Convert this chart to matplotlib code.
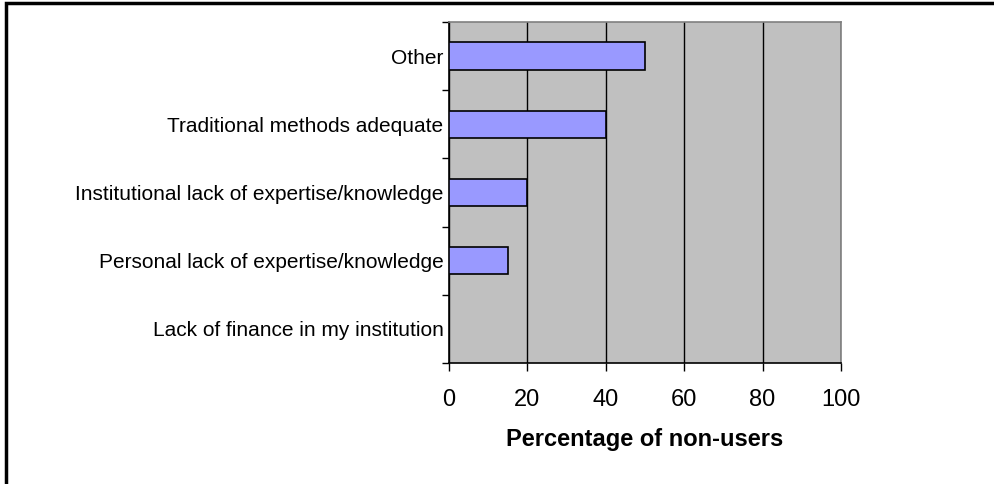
import matplotlib.pyplot as plt
from matplotlib.patches import Rectangle

categories = [
    "Other",
    "Traditional methods adequate",
    "Institutional lack of expertise/knowledge",
    "Personal lack of expertise/knowledge",
    "Lack of finance in my institution",
]
values = [50, 40, 20, 15, 0]
x_ticks = [0, 20, 40, 60, 80, 100]

plt.rcParams["font.family"] = ["Liberation Sans", "DejaVu Sans"]

fig = plt.figure(figsize=(9.95, 4.84), dpi=100)
ax = fig.add_axes([449 / 995, 1 - 363 / 484, 392 / 995, 341 / 484])
ax.set_facecolor("#c0c0c0")

pos = list(range(len(categories)))
ax.barh(pos, values, height=0.4, color="#9999ff", edgecolor="black",
        linewidth=1.2, zorder=3)

ax.set_xlim(0, 100)
ax.set_ylim(len(categories) - 0.5, -0.5)
ax.set_xticks(x_ticks)
ax.set_xticklabels([str(t) for t in x_ticks], fontsize=17)
ax.tick_params(axis="x", direction="out", length=6, width=1, pad=13)

ax.set_yticks(pos)
ax.set_yticklabels(categories, fontsize=15)
ax.tick_params(axis="y", which="major", length=0, pad=4)
ax.set_yticks([p + 0.5 for p in [-1] + pos], minor=True)
ax.tick_params(axis="y", which="minor", direction="out", length=5, width=1)

ax.grid(axis="x", color="black", linewidth=1, zorder=1)
ax.set_axisbelow(True)

ax.spines["left"].set_color("black")
ax.spines["bottom"].set_color("black")
ax.spines["top"].set_color("#808080")
ax.spines["right"].set_color("#808080")
for s in ax.spines.values():
    s.set_linewidth(1.2)

ax.set_xlabel("Percentage of non-users", fontsize=17, fontweight="bold",
              labelpad=12)

# outer chart frame (only left and top edges fall inside the picture)
fig.patches.append(Rectangle((6 / 995, -0.1), 1.2, 1 - 3 / 484 + 0.1,
                             transform=fig.transFigure, fill=False,
                             edgecolor="black", linewidth=2.5))

fig.savefig("out.png", dpi=100)
